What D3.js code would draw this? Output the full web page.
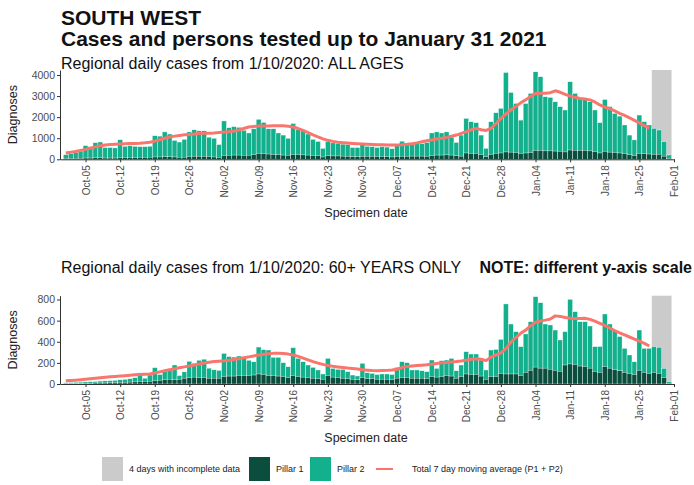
<!DOCTYPE html>
<html>
<head>
<meta charset="utf-8">
<script src="https://cdn.jsdelivr.net/npm/d3@7"></script>
<style>
  body { margin: 0; background: #fff; font-family: "Liberation Sans", Arial, sans-serif; }
</style>
</head>
<body>
<div id="chart"></div>
<script>
// daily specimen dates start 1 Oct 2020, last 4 days incomplete
const startDate = new Date(2020, 9, 1);
const incompleteDays = 4;

// ALL AGES
const allTotal = [
  220, 260, 320, 380, 650, 600, 790, 820, 560, 560,
  540, 930, 620, 650, 620, 600, 600, 620, 1120, 1100,
  1300, 1200, 900, 820, 950, 1300, 1400, 1350, 1350, 1050,
  1000, 700, 1820, 1500, 1550, 1520, 1380, 1250, 1450, 1900,
  1750, 1450, 1450, 1250, 1150, 1000, 1700, 1400, 1350, 1200,
  950, 850, 520, 850, 780, 750, 720, 700, 560, 560,
  700, 620, 600, 560, 600, 580, 500, 640, 860, 700,
  720, 780, 750, 800, 1250, 1300, 1250, 1300, 1050, 800,
  1150, 1940, 1785, 1740, 1150, 520, 1785, 2210, 2420, 4120,
  3175, 2650, 1860, 2650, 3130, 4150, 3920, 2970, 2940, 2730,
  2500, 2340, 3680, 3130, 2890, 2840, 2730, 2340, 1740, 2840,
  2500, 2180, 2050, 1630, 1150, 920, 2100, 1785, 1630, 1470,
  1390, 840, 205
];
const allPillar1 = [
  40, 40, 50, 50, 60, 60, 70, 70, 60, 60,
  60, 70, 80, 80, 80, 90, 90, 100, 110, 110,
  120, 120, 110, 100, 100, 130, 140, 140, 140, 130,
  110, 90, 180, 190, 200, 200, 190, 190, 220, 280,
  260, 250, 230, 220, 200, 190, 230, 220, 210, 200,
  180, 170, 110, 170, 160, 160, 150, 140, 120, 120,
  140, 140, 140, 130, 130, 120, 110, 130, 140, 140,
  150, 150, 150, 140, 170, 200, 200, 210, 200, 170,
  150, 300, 280, 280, 220, 120, 230, 280, 300, 350,
  340, 320, 280, 300, 320, 420, 420, 400, 400, 390,
  380, 350, 440, 430, 420, 420, 400, 360, 300, 380,
  340, 320, 300, 270, 220, 180, 280, 260, 250, 240,
  240, 150, 40
];
const allMovingAvg = [
  300, 330, 370, 420, 470, 530, 590, 640, 680, 700,
  715, 725, 735, 745, 750, 760, 780, 810, 860, 930,
  1000, 1060, 1100, 1130, 1160, 1180, 1200, 1220, 1230, 1240,
  1250, 1270, 1290, 1310, 1340, 1390, 1460, 1530, 1560, 1575,
  1580, 1585, 1590, 1595, 1590, 1570, 1530, 1460, 1370, 1270,
  1160, 1060, 970, 900, 850, 810, 790, 770, 755, 740,
  725, 710, 700, 690, 685, 680, 680, 680, 690, 710,
  740, 780, 830, 880, 920, 960, 1000, 1040, 1090, 1150,
  1230, 1310, 1400, 1470, 1400, 1370, 1470, 1700, 1940, 2150,
  2340, 2500, 2680, 2820, 2980, 3120, 3130, 3130, 3160, 3250,
  3180, 3080, 3000, 2940, 2890, 2860, 2820, 2720, 2580, 2480,
  2400, 2300, 2180, 2080, 1970, 1850, 1730, 1600, 1480
];

// 60+ YEARS ONLY
const oldTotal = [
  12, 14, 16, 18, 20, 22, 24, 28, 30, 32,
  35, 40, 44, 50, 60, 105, 55, 85, 155, 90,
  130, 140, 180, 80, 115, 215, 195, 225, 235, 150,
  135, 130, 290, 260, 255, 265, 255, 225, 210, 350,
  325, 322, 253, 253, 202, 164, 344, 243, 211, 180,
  158, 133, 95, 243, 148, 139, 139, 117, 85, 76,
  196, 107, 101, 90, 95, 95, 90, 158, 211, 202,
  133, 133, 126, 117, 227, 148, 221, 227, 243, 126,
  180, 306, 284, 284, 227, 133, 322, 328, 423, 758,
  568, 496, 354, 474, 590, 827, 770, 568, 559, 511,
  417, 496, 802, 685, 590, 590, 549, 354, 355, 663,
  568, 511, 450, 338, 275, 210, 511, 338, 338, 354,
  348, 148, 22
];
const oldPillar1 = [
  5, 5, 6, 6, 8, 8, 10, 10, 10, 12,
  12, 15, 15, 18, 20, 22, 25, 25, 30, 35,
  40, 45, 40, 45, 55, 60, 65, 60, 60, 55,
  55, 55, 70, 75, 75, 80, 80, 80, 85, 95,
  90, 80, 80, 75, 70, 60, 80, 70, 65, 60,
  55, 50, 45, 80, 65, 60, 55, 50, 45, 40,
  60, 50, 50, 45, 45, 45, 40, 55, 60, 60,
  55, 55, 55, 50, 70, 65, 70, 80, 75, 55,
  70, 95, 90, 90, 75, 45, 70, 70, 100, 95,
  95, 95, 80, 110, 130, 160, 150, 150, 140, 130,
  120, 180, 190, 185, 170, 165, 150, 120, 110, 165,
  150, 135, 125, 110, 100, 90, 130, 110, 100, 110,
  100, 60, 8
];
const oldMovingAvg = [
  30, 33, 36, 40, 45, 50, 55, 60, 64, 68,
  72, 75, 79, 83, 87, 90, 92, 95, 105, 115,
  125, 135, 145, 153, 162, 170, 180, 190, 198, 205,
  212, 216, 220, 225, 232, 240, 248, 257, 266, 275,
  281, 286, 290, 290, 288, 283, 275, 262, 245, 228,
  212, 198, 186, 176, 168, 162, 157, 151, 147, 141,
  136, 131, 127, 126, 127, 129, 132, 140, 155, 165,
  170, 175, 178, 182, 188, 195, 200, 204, 208, 212,
  218, 226, 234, 238, 234, 221, 255, 275, 295, 335,
  395, 440, 480, 510, 550, 585, 595, 605, 615, 645,
  640, 630, 622, 620, 620, 622, 612, 595, 575, 555,
  530, 505, 485, 465, 445, 425, 405, 385, 360
];

const allTicks = [0, 1000, 2000, 3000, 4000];
const oldTicks = [0, 200, 400, 600, 800];

const width = 694;
const height = 485;
const colours = {
  pillar1: "#0b4e3d",
  pillar2: "#12b08c",
  avg: "#f8766d",
  grey: "#cbcbcb",
  axis: "#333",
  text: "#4d4d4d"
};

const svg = d3.select("#chart").append("svg")
  .attr("width", width)
  .attr("height", height);

const dates = allTotal.map((d, i) => d3.timeDay.offset(startDate, i));

const x = d3.scaleTime()
  .domain([d3.timeHour.offset(startDate, -28), new Date(2021, 1, 1)])
  .range([60, 674]);
const barW = x(dates[1]) - x(dates[0]);

// titles
svg.append("text").attr("x", 61).attr("y", 25)
  .style("font-size", "21px").style("font-weight", "bold").attr("fill", "#111")
  .text("SOUTH WEST");
svg.append("text").attr("x", 61).attr("y", 46)
  .style("font-size", "21px").style("font-weight", "bold").attr("fill", "#111")
  .text("Cases and persons tested up to January 31 2021");
svg.append("text").attr("x", 61).attr("y", 69)
  .style("font-size", "16px").attr("fill", "#111")
  .text("Regional daily cases from 1/10/2020: ALL AGES");
svg.append("text").attr("x", 61).attr("y", 273)
  .style("font-size", "16px").attr("fill", "#111")
  .text("Regional daily cases from 1/10/2020: 60+ YEARS ONLY");
svg.append("text").attr("x", 692).attr("y", 273).attr("text-anchor", "end")
  .style("font-size", "16px").style("font-weight", "bold").attr("fill", "#111")
  .text("NOTE: different y-axis scale");

function doPanel(cfg) {
  const y = d3.scaleLinear().domain([0, cfg.yMax]).range([cfg.bottom, cfg.top]);
  const g = svg.append("g");

  // incomplete days shading
  const firstInc = dates[dates.length - incompleteDays];
  const lastInc = dates[dates.length - 1];
  g.append("rect")
    .attr("x", x(firstInc) - barW / 2)
    .attr("width", x(lastInc) - x(firstInc) + barW)
    .attr("y", cfg.top)
    .attr("height", cfg.bottom - cfg.top)
    .attr("fill", colours.grey);

  // total (pillar 2 on top), then pillar 1 at the base
  g.selectAll(".p2").data(cfg.total).enter().append("rect")
    .attr("class", "p2")
    .attr("x", (d, i) => x(dates[i]) - barW / 2)
    .attr("width", barW)
    .attr("y", d => y(d))
    .attr("height", d => y(0) - y(d))
    .attr("fill", colours.pillar2)
    .attr("stroke", "#fff")
    .attr("stroke-width", 0.4);

  g.selectAll(".p1").data(cfg.pillar1).enter().append("rect")
    .attr("class", "p1")
    .attr("x", (d, i) => x(dates[i]) - barW / 2)
    .attr("width", barW)
    .attr("y", d => y(d))
    .attr("height", d => y(0) - y(d))
    .attr("fill", colours.pillar1)
    .attr("stroke", "#fff")
    .attr("stroke-width", 0.4);

  const line = d3.line()
    .x((d, i) => x(dates[i]))
    .y(d => y(d));
  g.append("path")
    .datum(cfg.avg)
    .attr("d", line)
    .attr("fill", "none")
    .attr("stroke", colours.avg)
    .attr("stroke-width", 3)
    .attr("stroke-linejoin", "round");

  // axes
  const yAxis = g.append("g")
    .attr("transform", `translate(${x.range()[0]},0)`)
    .call(d3.axisLeft(y).tickValues(cfg.ticks).tickFormat(d3.format("d"))
      .tickSize(3).tickSizeOuter(0).tickPadding(2));
  yAxis.select(".domain").attr("stroke", colours.axis);
  yAxis.selectAll(".tick line").attr("stroke", colours.axis);
  yAxis.selectAll("text").attr("fill", colours.text)
    .style("font-size", "10.5px").style("font-family", "Liberation Sans, Arial, sans-serif");

  const mondays = d3.timeMonday.range(new Date(2020, 9, 5), new Date(2021, 1, 2));
  const xAxis = g.append("g")
    .attr("transform", `translate(0,${cfg.bottom})`)
    .call(d3.axisBottom(x).tickValues(mondays).tickFormat(d3.timeFormat("%b-%d"))
      .tickSize(3).tickSizeOuter(0));
  xAxis.select(".domain").attr("stroke", colours.axis);
  xAxis.selectAll(".tick line").attr("stroke", colours.axis);
  xAxis.selectAll("text")
    .attr("fill", colours.text)
    .style("font-size", "10px").style("font-family", "Liberation Sans, Arial, sans-serif")
    .attr("transform", "rotate(-90)")
    .attr("text-anchor", "end")
    .attr("x", -6).attr("y", 0).attr("dy", "0.35em");

  svg.append("text")
    .attr("transform", `translate(17,${(cfg.top + cfg.bottom) / 2}) rotate(-90)`)
    .attr("text-anchor", "middle")
    .style("font-size", "12.5px").attr("fill", "#222")
    .text("Diagnoses");
  svg.append("text")
    .attr("x", 366).attr("y", cfg.bottom + 58)
    .attr("text-anchor", "middle")
    .style("font-size", "12.5px").attr("fill", "#222")
    .text("Specimen date");
}

doPanel({ total: allTotal, pillar1: allPillar1, avg: allMovingAvg,
  yMax: 4237, top: 70, bottom: 159.3, ticks: allTicks });
doPanel({ total: oldTotal, pillar1: oldPillar1, avg: oldMovingAvg,
  yMax: 836, top: 295.7, bottom: 384, ticks: oldTicks });

// legend
const legend = svg.append("g").style("font-size", "9px").attr("fill", "#222");
const legendItems = [
  { label: "4 days with incomplete data", colour: colours.grey, x: 102, type: "box" },
  { label: "Pillar 1", colour: colours.pillar1, x: 249, type: "box" },
  { label: "Pillar 2", colour: colours.pillar2, x: 310, type: "box" },
  { label: "Total 7 day moving average (P1 + P2)", colour: colours.avg, x: 376, type: "line" }
];
legendItems.forEach(item => {
  if (item.type === "box") {
    legend.append("rect").attr("x", item.x).attr("y", 457)
      .attr("width", 21).attr("height", 24).attr("fill", item.colour);
    legend.append("text").attr("x", item.x + 27).attr("y", 472).text(item.label);
  } else {
    legend.append("line").attr("x1", item.x).attr("x2", item.x + 17)
      .attr("y1", 469).attr("y2", 469)
      .attr("stroke", item.colour).attr("stroke-width", 2);
    legend.append("text").attr("x", item.x + 36).attr("y", 472).text(item.label);
  }
});
</script>
</body>
</html>
